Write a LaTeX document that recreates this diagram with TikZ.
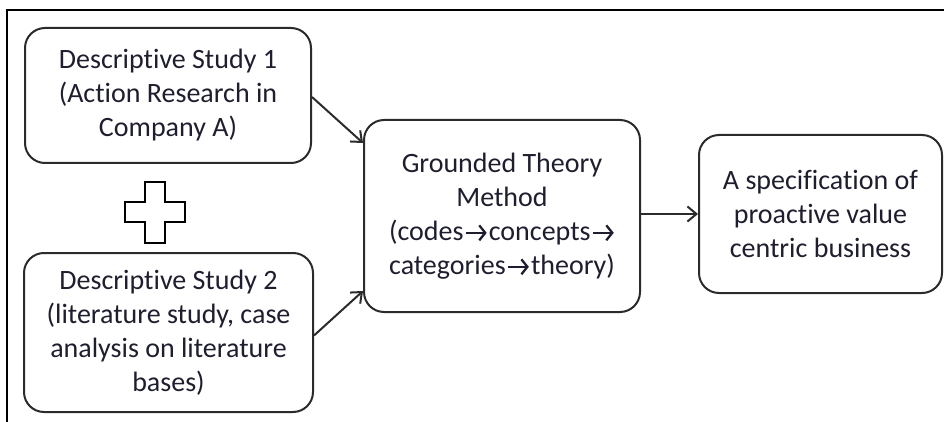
\documentclass[tikz,border=0pt]{standalone}
\usepackage{fontspec}
\setmainfont{Carlito}[RawFeature=-liga]
\usetikzlibrary{arrows.meta,calc}
\definecolor{edge}{HTML}{2B2B2B}
\definecolor{txt}{HTML}{1E1E2E}
\newcommand{\myarr}{\hspace{1pt}\tikz[x=1pt,y=1pt,baseline=0pt]\draw[draw=txt,line width=2.3pt,-{Straight Barb[length=6pt,width=15pt,line width=2.3pt]}] (0,7.5) -- (21,7.5);\hspace{1pt}}
\tikzset{
  box/.style={draw=edge, line width=2pt, rounded corners=20pt, align=center, inner sep=0pt,
    font=\fontsize{28}{34}\selectfont, text=txt},
  conn/.style={draw=edge, line width=2pt, -{Straight Barb[length=9pt,width=15pt,line width=2pt]}},
  frame/.style={draw=black, line width=2.2pt},
  plus/.style={draw=black, line width=1.8pt, fill=white}
}
\begin{document}
\begin{tikzpicture}[x=1pt,y=-1pt]
\useasboundingbox (0,0) rectangle (944,422);
\draw[frame] (944,10) -- (7,10) -- (7,422);
\node[box, minimum width=286pt, minimum height=135pt] (b1) at (168,95.5)
  {Descriptive Study 1\\(Action Research in\\Company A)};
\node[box, minimum width=289pt, minimum height=159pt] (b2) at (168.5,332.5)
  {Descriptive Study 2\\(literature study, case\\analysis on literature\\bases)};
\node[box, minimum width=276pt, minimum height=192pt] (b3) at (502,216)
  {Grounded Theory\\Method\\(codes\myarr concepts\myarr\\categories\myarr theory)};
\node[box, minimum width=243pt, minimum height=158pt] (b4) at (820.5,214)
  {A specification of\\proactive value\\centric business};
\draw[plus] (145,182) -- (165,182) -- (165,202) -- (185,202) -- (185,222) -- (165,222)
  -- (165,243) -- (145,243) -- (145,222) -- (125,222) -- (125,202) -- (145,202) -- cycle;
\draw[conn] ($(b1.east)+(0,1.5)$) -- ($(b3.north west)+(0,24)$);
\draw[conn] ($(b2.east)+(0,3)$) -- ($(b3.south west)+(0,-22)$);
\draw[conn] (b3.east |- b4.west) -- (b4.west);
\end{tikzpicture}
\end{document}
